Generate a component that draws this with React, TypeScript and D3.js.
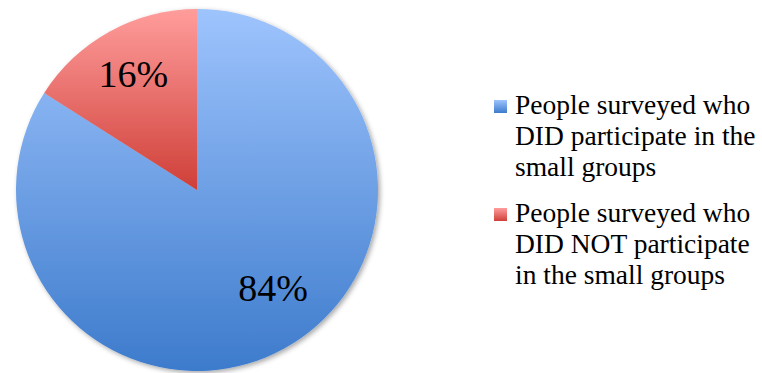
import React from "react";
import * as d3 from "d3";

const categories = [
  "People surveyed who DID participate in the small groups",
  "People surveyed who DID NOT participate in the small groups",
];
const legendLines = [
  ["People surveyed who", "DID participate in the", "small groups"],
  ["People surveyed who", "DID NOT participate", "in the small groups"],
];
const values = [84, 16];
const labels = ["84%", "16%"];

const W = 762;
const H = 373;
const cx = 197;
const cy = 190;
const R = 181;

const gradTop = ["#9ec4fd", "#ff9d9c"];
const gradBottom = ["#3d7bcc", "#cf3f38"];
const labelRadius = [0.685, 0.73];
const labelAngleShift = [-9, 0];
const FONT = "'Liberation Serif', 'Times New Roman', serif";

export default function App() {
  const pie = d3
    .pie<number>()
    .sort(null)
    .startAngle(0)
    .endAngle(2 * Math.PI)
    .value((d) => d);
  const arcs = pie(values);
  const arc = d3.arc<d3.PieArcDatum<number>>().innerRadius(0).outerRadius(R);

  return (
    <div style={{ position: "fixed", left: 0, top: 0, width: W, height: H, background: "#fff" }}>
      <svg width={W} height={H} style={{ display: "block" }}>
        <defs>
          {values.map((_, i) => (
            <linearGradient key={i} id={`g${i}`} x1="0" y1="0" x2="0" y2="1">
              <stop offset="0%" stopColor={gradTop[i]} />
              <stop offset="100%" stopColor={gradBottom[i]} />
            </linearGradient>
          ))}
          <filter id="sh" x="-10%" y="-10%" width="125%" height="125%">
            <feDropShadow dx="2" dy="2" stdDeviation="2.5" floodColor="#000" floodOpacity="0.35" />
          </filter>
        </defs>
        <g transform={`translate(${cx},${cy})`} filter="url(#sh)">
          {arcs.map((a, i) => (
            <path key={i} d={arc(a) || ""} fill={`url(#g${i})`} />
          ))}
        </g>
        <g transform={`translate(${cx},${cy})`}>
          {arcs.map((a, i) => {
            const mid = (a.startAngle + a.endAngle) / 2 + (labelAngleShift[i] * Math.PI) / 180;
            const r = R * labelRadius[i];
            const x = Math.sin(mid) * r;
            const y = -Math.cos(mid) * r;
            return (
              <text
                key={i}
                x={x}
                y={y}
                textAnchor="middle"
                dominantBaseline="central"
                fontFamily={FONT}
                fontSize={38}
                fill="#000"
              >
                {labels[i]}
              </text>
            );
          })}
        </g>
        <g>
          {categories.map((c, i) => {
            const top = 114 + i * 108;
            return (
              <g key={c}>
                <rect x={494} y={top - 14} width={13} height={13} fill={`url(#g${i})`} />
                <text fontFamily={FONT} fontSize={27.5} fill="#000">
                  {legendLines[i].map((l, j) => (
                    <tspan key={j} x={515} y={top + j * 31}>
                      {l}
                    </tspan>
                  ))}
                </text>
              </g>
            );
          })}
        </g>
      </svg>
    </div>
  );
}
